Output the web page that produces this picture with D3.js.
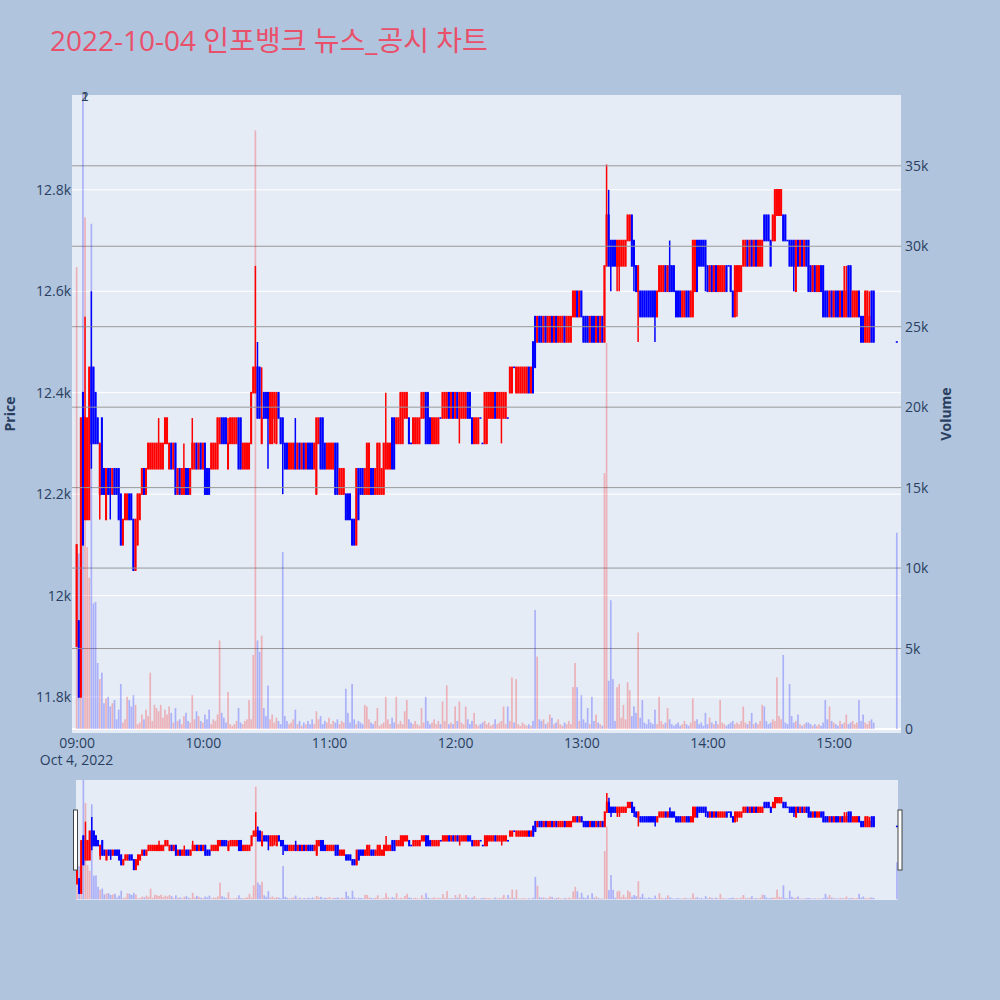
<!DOCTYPE html>
<html>
<head>
<meta charset="utf-8">
<script src="https://cdn.jsdelivr.net/npm/d3@7"></script>
<style>
  body { margin: 0; background: #b0c4de; }
  svg { display: block; font-family: 'Open Sans', 'Noto Sans CJK KR', sans-serif; }
</style>
</head>
<body>
<svg></svg>
<script>
let tradeDate = '2022-10-04';
let stockName = '인포뱅크';

// one candle per minute from 09:00, null = no trade in that minute
let openPrice = [
  11900,11950,11800,12400,12150,12150,12150,12450,12450,12400,
  12350,12200,12350,12250,12150,12250,12250,12200,12250,12250,
  12250,12200,12100,12150,12150,12200,12200,12150,12050,12100,
  12150,12200,12250,12200,12250,12250,12250,12250,12250,12250,
  12250,12250,12300,12300,12250,12300,12250,12300,12200,12250,
  12200,12200,12250,12250,12200,12250,12250,12300,12250,12300,
  12250,12300,12250,12250,12250,12250,12250,12250,12300,12350,
  12350,12350,12250,12300,12300,12300,12300,12350,12350,12250,
  12250,12250,12250,12300,12400,12400,12450,12450,12300,12400,
  12400,12400,12300,12300,12350,12300,12400,12350,12350,12300,
  12300,12250,12250,12250,12300,12250,12300,12250,12300,12250,
  12300,12300,12300,12250,12200,12300,12350,12350,12300,12250,
  12250,12250,12250,12300,12300,12200,12200,12200,12200,12200,
  12200,12150,12150,12100,12250,12250,12250,12200,12200,12200,
  12250,12250,12200,12200,12200,12200,12200,12250,12250,12250,
  12350,12350,12300,12300,12300,12300,12350,12350,12350,12300,
  12300,12300,12300,12300,12350,12350,12400,12400,12350,12300,
  12300,12300,12300,12350,12350,12350,12350,12400,12350,12400,
  12350,12400,12350,12350,12350,12350,12400,12400,12350,12300,
  12300,12300,12350,12300,12300,12300,12350,12350,12350,12400,
  12350,12350,12350,12350,12350,12350,12400,12400,12450,12400,
  12400,12400,12400,12400,12400,12450,12400,12500,12550,12500,
  12550,12550,12500,12550,12500,12500,12550,12500,12550,12500,
  12500,12500,12550,12500,12500,12500,12550,12550,12600,12550,
  12600,12550,12550,12550,12500,12550,12550,12500,12550,12500,
  12550,12500,12650,12750,12700,12700,12700,12650,12650,12650,
  12650,12650,12700,12700,12750,12700,12650,12600,12600,12600,
  12600,12600,12600,12600,12600,12600,12550,12600,12600,12600,
  12650,12600,12650,12650,12650,12600,12600,12600,12550,12550,
  12600,12600,12550,12550,12600,12700,12700,12700,12700,12700,
  12650,12600,12650,12600,12650,12600,12600,12600,12600,12650,
  12650,12650,12600,12550,12600,12600,12600,12650,12650,12700,
  12650,12700,12650,12700,12650,12650,12650,12750,12750,12750,
  12700,12700,12700,12750,12750,12750,12750,12750,12700,12700,
  12700,12700,12600,12700,12650,12700,12650,12700,12700,12650,
  12600,12650,12600,12600,12650,12650,12600,12600,12550,12600,
  12550,12600,12600,12550,12600,12550,12550,12650,12650,12550,
  12550,12550,12600,12550,12550,12500,12500,12500,12600,12600,
  null,null,null,null,null,null,null,null,null,null,
  12500
];

let highPrice = [
  12100,11950,12350,12400,12550,12350,12450,12600,12450,12400,
  12350,12300,12350,12250,12250,12250,12250,12250,12250,12250,
  12250,12200,12150,12200,12200,12200,12200,12150,12150,12200,
  12200,12250,12250,12250,12300,12300,12300,12300,12300,12350,
  12300,12300,12350,12350,12300,12300,12300,12300,12250,12250,
  12250,12300,12250,12250,12250,12350,12300,12300,12300,12300,
  12300,12300,12250,12250,12300,12300,12300,12350,12350,12350,
  12350,12350,12350,12350,12350,12350,12350,12350,12350,12300,
  12300,12300,12300,12400,12450,12650,12500,12450,12450,12400,
  12400,12400,12400,12400,12400,12400,12400,12350,12350,12300,
  12300,12300,12300,12300,12350,12300,12300,12300,12300,12300,
  12300,12300,12300,12300,12350,12350,12350,12350,12300,12300,
  12300,12300,12300,12300,12300,12250,12250,12250,12200,12200,
  12200,12150,12150,12250,12250,12250,12250,12250,12300,12300,
  12250,12250,12250,12300,12300,12250,12300,12400,12300,12300,
  12350,12350,12350,12350,12400,12400,12400,12400,12350,12300,
  12350,12350,12350,12350,12400,12400,12400,12400,12350,12350,
  12350,12350,12350,12350,12400,12400,12400,12400,12400,12400,
  12400,12400,12400,12400,12400,12400,12400,12400,12350,12350,
  12350,12350,12350,12300,12400,12400,12400,12400,12400,12400,
  12400,12400,12400,12400,12400,12350,12450,12450,12450,12450,
  12450,12450,12450,12450,12450,12450,12450,12500,12550,12550,
  12550,12550,12550,12550,12550,12550,12550,12550,12550,12550,
  12550,12550,12550,12550,12550,12550,12600,12600,12600,12600,
  12600,12550,12550,12550,12550,12550,12550,12550,12550,12550,
  12550,12650,12850,12800,12700,12700,12700,12700,12700,12700,
  12700,12700,12750,12750,12750,12700,12650,12650,12600,12600,
  12600,12600,12600,12600,12600,12600,12600,12650,12650,12650,
  12650,12650,12700,12650,12650,12600,12600,12600,12600,12600,
  12600,12600,12600,12700,12700,12700,12700,12700,12700,12700,
  12650,12650,12650,12650,12650,12650,12650,12650,12650,12650,
  12650,12650,12600,12650,12650,12650,12650,12700,12700,12700,
  12700,12700,12700,12700,12700,12700,12700,12750,12750,12750,
  12700,12750,12800,12800,12800,12800,12750,12750,12700,12700,
  12700,12700,12700,12700,12700,12700,12700,12700,12700,12650,
  12650,12650,12650,12650,12650,12650,12600,12600,12600,12600,
  12600,12600,12600,12600,12600,12650,12650,12650,12650,12600,
  12600,12600,12600,12550,12550,12600,12600,12600,12600,12600,
  null,null,null,null,null,null,null,null,null,null,
  12500
];

let lowPrice = [
  11900,11800,11800,12100,12150,12150,12150,12250,12300,12300,
  12300,12150,12200,12200,12150,12200,12150,12200,12200,12200,
  12150,12100,12100,12150,12150,12150,12150,12050,12050,12100,
  12150,12200,12200,12200,12250,12250,12250,12250,12250,12250,
  12250,12250,12300,12300,12250,12250,12250,12200,12200,12200,
  12200,12200,12200,12200,12200,12250,12250,12250,12250,12250,
  12250,12200,12200,12200,12250,12250,12250,12250,12300,12300,
  12300,12300,12250,12300,12300,12300,12300,12250,12250,12250,
  12250,12250,12250,12300,12400,12400,12350,12350,12300,12350,
  12350,12250,12300,12300,12300,12300,12350,12300,12200,12250,
  12250,12250,12250,12250,12250,12250,12250,12250,12250,12250,
  12250,12250,12250,12250,12200,12300,12250,12250,12250,12250,
  12250,12250,12250,12200,12200,12200,12200,12200,12150,12150,
  12150,12100,12100,12100,12150,12200,12200,12200,12200,12200,
  12200,12200,12200,12200,12200,12200,12200,12250,12250,12250,
  12250,12250,12300,12300,12300,12300,12350,12350,12300,12300,
  12300,12300,12300,12300,12350,12350,12300,12300,12300,12300,
  12300,12300,12300,12350,12350,12350,12350,12350,12350,12350,
  12350,12350,12300,12350,12350,12350,12350,12350,12300,12300,
  12300,12300,12350,12300,12300,12300,12350,12350,12350,12350,
  12350,12350,12300,12350,12350,12350,12400,12400,12450,12400,
  12400,12400,12400,12400,12400,12400,12400,12400,12450,12500,
  12500,12500,12500,12500,12500,12500,12500,12500,12500,12500,
  12500,12500,12500,12500,12500,12500,12550,12550,12550,12550,
  12550,12500,12500,12500,12500,12500,12500,12500,12500,12500,
  12500,12500,12650,12650,12600,12650,12650,12600,12600,12650,
  12650,12650,12700,12700,12650,12600,12600,12500,12550,12550,
  12550,12550,12550,12550,12550,12500,12550,12600,12600,12600,
  12600,12600,12600,12600,12600,12550,12550,12550,12550,12550,
  12550,12550,12550,12550,12600,12600,12650,12650,12650,12600,
  12600,12600,12600,12600,12600,12600,12600,12600,12600,12600,
  12650,12600,12550,12550,12550,12600,12600,12650,12650,12650,
  12650,12650,12650,12650,12650,12650,12650,12700,12700,12700,
  12650,12700,12700,12750,12750,12750,12700,12700,12700,12650,
  12650,12600,12600,12650,12650,12650,12650,12650,12600,12600,
  12600,12600,12600,12600,12600,12550,12550,12550,12550,12550,
  12550,12550,12550,12550,12550,12550,12550,12550,12550,12550,
  12550,12550,12550,12500,12500,12500,12500,12500,12500,12500,
  null,null,null,null,null,null,null,null,null,null,
  12500
];

let closePrice = [
  12100,11800,12350,12100,12350,12350,12450,12300,12300,12300,
  12300,12300,12200,12200,12250,12200,12200,12250,12200,12200,
  12150,12100,12150,12200,12200,12150,12150,12050,12150,12200,
  12200,12250,12200,12250,12300,12300,12300,12300,12300,12300,
  12300,12300,12350,12350,12300,12250,12300,12200,12250,12200,
  12250,12250,12200,12200,12250,12300,12300,12250,12300,12250,
  12300,12200,12200,12200,12300,12300,12300,12350,12350,12300,
  12300,12300,12300,12350,12350,12350,12350,12250,12250,12300,
  12300,12300,12300,12400,12450,12450,12350,12350,12350,12350,
  12350,12350,12400,12400,12400,12400,12350,12300,12300,12250,
  12250,12300,12300,12300,12250,12300,12250,12300,12250,12300,
  12250,12250,12250,12300,12350,12350,12250,12250,12250,12300,
  12300,12300,12300,12200,12200,12250,12250,12250,12150,12150,
  12150,12100,12100,12250,12150,12200,12200,12250,12300,12300,
  12200,12200,12250,12300,12300,12250,12300,12300,12300,12300,
  12250,12250,12350,12350,12400,12400,12400,12400,12300,12300,
  12350,12350,12350,12350,12400,12400,12300,12300,12300,12350,
  12350,12350,12350,12350,12400,12400,12400,12350,12400,12350,
  12400,12350,12400,12400,12400,12400,12350,12350,12300,12350,
  12350,12350,12350,12300,12400,12400,12400,12400,12400,12350,
  12400,12400,12400,12400,12400,12350,12450,12450,12450,12450,
  12450,12450,12450,12450,12450,12400,12450,12400,12450,12550,
  12500,12500,12550,12500,12550,12550,12500,12550,12500,12550,
  12550,12550,12500,12550,12550,12550,12600,12600,12550,12600,
  12550,12500,12500,12500,12550,12500,12500,12550,12500,12550,
  12500,12650,12750,12650,12650,12650,12650,12700,12700,12700,
  12700,12700,12750,12750,12650,12650,12600,12650,12550,12550,
  12550,12550,12550,12550,12550,12550,12600,12650,12650,12650,
  12600,12650,12600,12600,12600,12550,12550,12550,12600,12600,
  12550,12550,12600,12700,12700,12600,12650,12650,12650,12650,
  12600,12650,12600,12650,12600,12650,12650,12650,12650,12600,
  12650,12600,12550,12650,12650,12650,12650,12700,12700,12650,
  12700,12650,12700,12650,12700,12700,12700,12700,12700,12700,
  12650,12750,12800,12800,12800,12800,12700,12700,12700,12650,
  12650,12650,12700,12650,12700,12650,12700,12650,12600,12600,
  12650,12600,12650,12650,12600,12550,12550,12550,12600,12550,
  12600,12550,12550,12600,12550,12600,12600,12550,12550,12600,
  12600,12600,12550,12500,12500,12600,12600,12550,12500,12500,
  null,null,null,null,null,null,null,null,null,null,
  12500
];

let volume = [
  28700,10900,10600,45000,31800,11300,9400,31400,7800,7900,
  4100,3100,3500,1600,1900,2000,1400,1600,1800,600,
  1200,2800,400,600,2000,1800,1400,2100,1500,300,
  400,900,600,1200,800,3500,500,1500,1300,1100,
  1500,700,1200,900,1400,1000,400,1300,500,600,
  300,800,1000,500,400,2100,600,1100,800,500,
  400,900,600,1200,300,600,500,900,5500,1000,
  700,400,2300,300,200,300,500,1300,400,300,
  500,600,1800,600,4600,37200,5500,4800,5800,1300,
  800,2700,600,900,400,700,500,300,11000,800,
  500,300,400,600,1200,300,500,200,400,300,
  500,300,600,300,1100,600,800,300,500,400,
  700,300,500,400,600,300,500,400,2500,1000,
  400,2800,600,300,500,400,300,1500,1400,600,
  400,300,500,1300,200,300,400,2000,600,300,
  700,400,2000,300,500,300,1100,1800,600,400,
  300,500,300,200,1300,400,2000,500,300,400,
  600,300,500,300,1700,500,2700,300,400,300,
  1400,500,1700,400,300,1400,600,300,500,1000,
  300,200,300,400,500,300,400,200,300,600,
  300,400,500,1400,300,1400,500,3200,400,3100,
  300,200,400,300,200,300,200,500,7400,4500,
  600,500,600,300,400,900,700,300,400,600,
  300,200,400,300,500,300,2600,4100,2600,500,
  2100,600,400,1300,300,2000,500,900,400,300,
  200,15900,24000,3000,8000,3100,500,2600,2800,700,
  1500,600,2900,2400,800,1400,1000,6000,700,1800,
  400,300,600,400,300,1200,300,2000,500,300,
  400,1300,600,300,200,300,400,200,300,500,
  300,200,400,1900,500,600,300,400,200,1000,
  300,700,400,300,500,300,1800,400,300,200,
  300,400,500,300,400,300,500,1400,400,300,
  500,1000,300,400,300,500,1500,1400,500,300,
  400,600,500,3200,800,600,4600,400,300,2800,
  800,400,500,900,300,200,300,400,400,300,
  200,300,200,300,200,400,1800,600,1400,500,
  400,300,200,500,300,400,900,300,400,500,
  300,400,1800,500,900,400,300,500,600,400,
  null,null,null,null,null,null,null,null,null,null,
  12200
];

let priceTicks = [11800, 12000, 12200, 12400, 12600, 12800];
let volumeTicks = [0, 5000, 10000, 15000, 20000, 25000, 30000, 35000];
let hourTicks = ['09:00', '10:00', '11:00', '12:00', '13:00', '14:00', '15:00'];
let newsLabels = ['1', '2'];
let newsTimes = ['09:04', '09:04'];

let width = 1000;
let height = 1000;
let plotLeft = 72, plotRight = 901, plotTop = 95, plotBottom = 733;
let sliderLeft = 76, sliderRight = 898, sliderTop = 780, sliderBottom = 900;
let upColor = '#ff0000';
let downColor = '#0000ff';
let textColor = '#2a3f5f';
let minute = 60000;

let parseTime = t => new Date(`${tradeDate}T${t}:00`);

let candles = openPrice.map((o, i) => ({
  time: new Date(+parseTime('09:00') + i * minute),
  open: o, high: highPrice[i], low: lowPrice[i], close: closePrice[i], volume: volume[i]
})).filter(d => d.open !== null);

let firstTime = candles[0].time;
let lastTime = candles[candles.length - 1].time;

let xScale = d3.scaleTime()
  .domain([new Date(+firstTime - 2.2 * minute), new Date(+lastTime + 2 * minute)])
  .range([plotLeft, plotRight]);

let yScale = d3.scaleLinear().domain([11729, 12987]).range([plotBottom, plotTop]);
let vScale = d3.scaleLinear().domain([-250, 39400]).range([plotBottom, plotTop]);

let xSlider = d3.scaleTime()
  .domain([new Date(+firstTime - 0.5 * minute), new Date(+lastTime + 0.5 * minute)])
  .range([sliderLeft, sliderRight]);
let ySlider = d3.scaleLinear().domain(yScale.domain()).range([sliderBottom, sliderTop]);
let vSlider = d3.scaleLinear().domain(vScale.domain()).range([sliderBottom, sliderTop]);

let svg = d3.select('svg')
  .attr('width', width)
  .attr('height', height);

let defs = svg.append('defs');
defs.append('clipPath').attr('id', 'clip-main')
  .append('rect')
    .attr('x', plotLeft).attr('y', plotTop)
    .attr('width', plotRight - plotLeft).attr('height', plotBottom - plotTop);
defs.append('clipPath').attr('id', 'clip-slider')
  .append('rect')
    .attr('x', sliderLeft).attr('y', sliderTop)
    .attr('width', sliderRight - sliderLeft).attr('height', sliderBottom - sliderTop);

// title
svg.append('text')
  .attr('x', 50)
  .attr('y', 50.5)
  .style('font-size', '28px')
  .style('fill', '#e9506a')
  .text(`${tradeDate} ${stockName} 뉴스_공시 차트`);

// main plot background
svg.append('rect')
  .attr('x', plotLeft).attr('y', plotTop)
  .attr('width', plotRight - plotLeft).attr('height', plotBottom - plotTop)
  .attr('fill', '#e5ecf6');

function drawCandles(g, x, y) {
  let c = g.append('g').selectAll('g')
    .data(candles)
    .enter()
    .append('g')
      .attr('fill', d => d.close > d.open ? upColor : downColor)
      .attr('stroke', d => d.close > d.open ? upColor : downColor);

  c.append('line')
    .attr('x1', d => x(d.time))
    .attr('x2', d => x(d.time))
    .attr('y1', d => y(d.high))
    .attr('y2', d => y(d.low))
    .attr('stroke-width', 1.5);

  c.append('rect')
    .attr('x', d => x(d.time) - 1)
    .attr('width', 2)
    .attr('y', d => Math.min(y(d.open), y(d.close)) - 0.8)
    .attr('height', d => Math.abs(y(d.open) - y(d.close)) + 1.6)
    .attr('stroke', 'none');
}

function drawVolume(g, x, v) {
  g.append('g').selectAll('rect')
    .data(candles)
    .enter()
    .append('rect')
      .attr('x', d => x(d.time) - 0.85)
      .attr('width', 1.7)
      .attr('y', d => v(d.volume))
      .attr('height', d => v(0) - v(d.volume))
      .attr('fill', d => d.close > d.open ? upColor : downColor)
      .attr('fill-opacity', 0.25);
}

// white price grid
svg.append('g')
  .selectAll('line')
  .data(priceTicks)
  .enter()
  .append('line')
    .attr('x1', plotLeft).attr('x2', plotRight)
    .attr('y1', d => yScale(d)).attr('y2', d => yScale(d))
    .attr('stroke', '#ffffff')
    .attr('stroke-width', 1);

svg.append('line')
  .attr('x1', plotLeft).attr('x2', plotRight)
  .attr('y1', vScale(0)).attr('y2', vScale(0))
  .attr('stroke', '#ffffff')
  .attr('stroke-width', 2);

let mainMarks = svg.append('g').attr('clip-path', 'url(#clip-main)');
drawCandles(mainMarks, xScale, yScale);

// volume grid sits above the candles
mainMarks.append('g')
  .selectAll('line')
  .data(volumeTicks.filter(d => d > 0))
  .enter()
  .append('line')
    .attr('x1', plotLeft).attr('x2', plotRight)
    .attr('y1', d => vScale(d)).attr('y2', d => vScale(d))
    .attr('stroke', '#999999')
    .attr('stroke-width', 1);

drawVolume(mainMarks, xScale, vScale);

// news markers
svg.append('g')
  .selectAll('text')
  .data(newsLabels)
  .enter()
  .append('text')
    .attr('x', (d, i) => xScale(parseTime(newsTimes[i])))
    .attr('y', plotTop + 6)
    .style('text-anchor', 'middle')
    .style('font-size', '13px')
    .style('fill', textColor)
    .text(d => d);

// axes
let leftAxis = svg.append('g')
  .attr('transform', `translate(${plotLeft}, 0)`)
  .call(d3.axisLeft(yScale).tickValues(priceTicks).tickSize(0).tickPadding(1)
    .tickFormat(d => `${d / 1000}k`));

let rightAxis = svg.append('g')
  .attr('transform', `translate(${plotRight}, 0)`)
  .call(d3.axisRight(vScale).tickValues(volumeTicks).tickSize(0).tickPadding(4)
    .tickFormat(d => d === 0 ? '0' : `${d / 1000}k`));

let bottomAxis = svg.append('g')
  .attr('transform', `translate(0, ${plotBottom})`)
  .call(d3.axisBottom(xScale).tickValues(hourTicks.map(parseTime)).tickSize(0).tickPadding(5)
    .tickFormat(d3.timeFormat('%H:%M')));

[leftAxis, rightAxis, bottomAxis].forEach(a => {
  a.select('.domain').remove();
  a.selectAll('text')
    .style('font-family', "'Open Sans', sans-serif")
    .style('font-size', '14px')
    .style('fill', textColor);
});

svg.append('text')
  .attr('x', xScale(parseTime(hourTicks[0])))
  .attr('y', 765)
  .style('text-anchor', 'middle')
  .style('font-size', '14px')
  .style('fill', textColor)
  .text(d3.timeFormat('%b %-d, %Y')(parseTime(hourTicks[0])));

svg.append('text')
  .attr('transform', 'rotate(-90)')
  .attr('x', -(plotTop + plotBottom) / 2)
  .attr('y', 15)
  .style('text-anchor', 'middle')
  .style('font-size', '14px')
  .style('font-weight', 'bold')
  .style('fill', textColor)
  .text('Price');

svg.append('text')
  .attr('transform', 'rotate(-90)')
  .attr('x', -(plotTop + plotBottom) / 2)
  .attr('y', 951)
  .style('text-anchor', 'middle')
  .style('font-size', '14px')
  .style('font-weight', 'bold')
  .style('fill', textColor)
  .text('Volume');

// range slider
svg.append('rect')
  .attr('x', sliderLeft).attr('y', sliderTop)
  .attr('width', sliderRight - sliderLeft).attr('height', sliderBottom - sliderTop)
  .attr('fill', '#e5ecf6');

let sliderMarks = svg.append('g').attr('clip-path', 'url(#clip-slider)');
drawCandles(sliderMarks, xSlider, ySlider);
drawVolume(sliderMarks, xSlider, vSlider);

svg.append('g')
  .selectAll('rect')
  .data([sliderLeft - 2.5, sliderRight])
  .enter()
  .append('rect')
    .attr('x', d => d)
    .attr('y', 810)
    .attr('width', 4)
    .attr('height', 60)
    .attr('fill', '#ffffff')
    .attr('stroke', '#444444')
    .attr('stroke-width', 1);
</script>
</body>
</html>
